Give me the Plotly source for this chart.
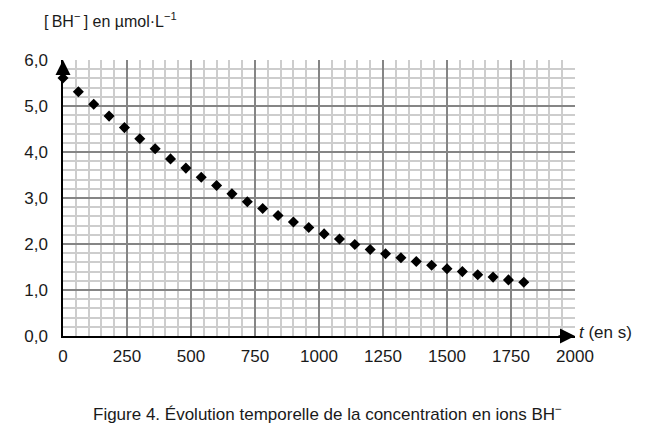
import plotly.graph_objects as go

# temps (s) et concentration [BH-] (µmol/L)
t_s = [0, 60, 120, 180, 240, 300, 360, 420, 480, 540, 600, 660, 720, 780, 840, 900,
       960, 1020, 1080, 1140, 1200, 1260, 1320, 1380, 1440, 1500, 1560, 1620, 1680,
       1740, 1800]
c_bh = [5.61, 5.31, 5.04, 4.78, 4.53, 4.29, 4.07, 3.85, 3.65, 3.45, 3.27, 3.09, 2.92,
        2.77, 2.62, 2.48, 2.36, 2.22, 2.11, 1.99, 1.88, 1.79, 1.70, 1.62, 1.54, 1.46,
        1.40, 1.33, 1.28, 1.22, 1.17]

x_ticks = [0, 250, 500, 750, 1000, 1250, 1500, 1750, 2000]
y_ticks = [0, 1, 2, 3, 4, 5, 6]

FONT = "Liberation Sans, Arial, sans-serif"

fig = go.Figure()
fig.add_trace(
    go.Scatter(
        x=t_s,
        y=c_bh,
        mode="markers",
        marker=dict(symbol="diamond", size=8.5, color="black"),
        cliponaxis=False,
        showlegend=False,
    )
)

fig.update_xaxes(
    range=[0, 2000],
    tickvals=x_ticks,
    tickformat="d",
    showgrid=True,
    gridcolor="#858585",
    gridwidth=1.5,
    minor=dict(dtick=50, showgrid=True, gridcolor="#cdcdcd", gridwidth=2),
    showline=True,
    linecolor="black",
    linewidth=1.5,
    zeroline=False,
    ticks="",
    ticklabelstandoff=4,
    tickfont=dict(size=17, color="#1a1a1a"),
)
fig.update_yaxes(
    range=[0, 6],
    tickvals=y_ticks,
    tickformat=".1f",
    showgrid=True,
    gridcolor="#858585",
    gridwidth=1.5,
    minor=dict(dtick=0.2, showgrid=True, gridcolor="#cdcdcd", gridwidth=2),
    showline=True,
    linecolor="black",
    linewidth=1.5,
    zeroline=False,
    ticks="",
    ticklabelstandoff=10,
    tickfont=dict(size=17, color="#1a1a1a"),
)

# flèches au bout des axes
fig.add_annotation(x=0, y=6, xref="x", yref="y", ax=0, ay=18, text="",
                   showarrow=True, arrowhead=2, arrowsize=2, arrowwidth=1.5,
                   arrowcolor="black")
fig.add_annotation(x=2000, y=0, xref="x", yref="y", ax=-18, ay=0, text="",
                   showarrow=True, arrowhead=2, arrowsize=2, arrowwidth=1.5,
                   arrowcolor="black")

fig.add_annotation(x=0, y=1.145, xref="paper", yref="paper", xanchor="left",
                   yanchor="middle", xshift=-21, showarrow=False,
                   text="[\u2009BH<sup>−</sup>\u2009] en µmol·L<sup>−1</sup>",
                   font=dict(size=16, color="#1a1a1a"))
fig.add_annotation(x=1.004, y=0.012, xref="paper", yref="paper", xanchor="left",
                   yanchor="middle", showarrow=False,
                   text="<i>t</i> (en s)", font=dict(size=17, color="#1a1a1a"))
fig.add_annotation(x=0.517, y=-0.279, xref="paper", yref="paper", xanchor="center",
                   yanchor="middle", showarrow=False,
                   text="Figure 4. Évolution temporelle de la concentration en ions BH<sup>−</sup>",
                   font=dict(size=17, color="#1a1a1a"))

# la page ajoute une marge de 8 px : on la compense ici
fig.update_layout(
    width=648,
    height=430,
    margin=dict(l=55, r=81, t=52, b=102),
    paper_bgcolor="white",
    plot_bgcolor="white",
    separators=", ",
    font=dict(family=FONT, color="#1a1a1a"),
)

fig.write_html("out.html")
